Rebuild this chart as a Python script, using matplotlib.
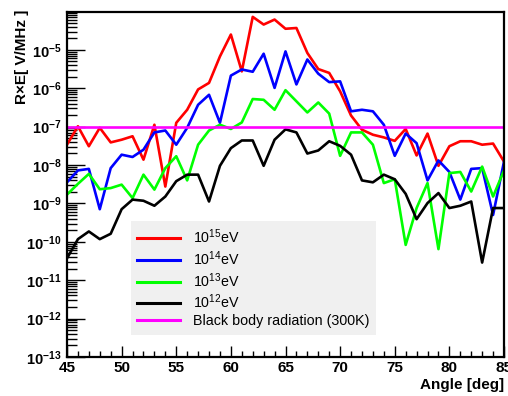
import numpy as np
import matplotlib
matplotlib.use("Agg")
import matplotlib.pyplot as plt
from matplotlib.ticker import FixedLocator, LogLocator, FuncFormatter, MultipleLocator

plt.rcParams['font.family'] = ['Liberation Sans', 'DejaVu Sans']
plt.rcParams['mathtext.fontset'] = 'custom'
plt.rcParams['mathtext.rm'] = 'Liberation Sans'
plt.rcParams['mathtext.bf'] = 'Liberation Sans:bold'

# angle in degrees (1 deg steps)
angles = list(range(45, 86))

# log10 of R*E [V/MHz]
e15 = [-7.47, -6.99, -7.51, -7.03, -7.41, -7.34, -7.25, -7.86, -6.95, -8.56,
       -6.90, -6.56, -6.03, -5.86, -5.17, -4.60, -5.56, -4.14, -4.34, -4.21,
       -4.45, -4.43, -5.08, -5.50, -5.60, -6.08, -6.71, -7.08, -7.21, -7.28,
       -7.37, -7.06, -7.75, -7.18, -8.02, -7.51, -7.38, -7.38, -7.47, -7.44, -7.91]
e14 = [-8.45, -8.14, -8.10, -9.15, -8.08, -7.73, -7.79, -7.60, -7.15, -7.10,
       -7.47, -7.03, -6.43, -6.17, -6.90, -5.67, -5.51, -5.57, -5.10, -5.99,
       -5.04, -5.90, -5.25, -5.62, -5.84, -5.82, -6.60, -6.56, -6.60, -6.95,
       -7.76, -7.18, -7.43, -8.40, -7.88, -8.18, -8.90, -8.10, -8.08, -9.30, -7.91]
e13 = [-8.77, -8.49, -8.23, -8.63, -8.60, -8.51, -8.86, -8.25, -8.64, -8.08,
       -7.77, -8.40, -7.47, -7.10, -6.95, -7.06, -6.89, -6.28, -6.30, -6.56,
       -6.05, -6.34, -6.63, -6.37, -6.66, -7.76, -7.15, -7.15, -7.47, -8.47,
       -8.37, -10.08, -9.12, -8.47, -10.19, -8.21, -8.18, -8.69, -8.04, -8.82, -8.14]
e12 = [-10.43, -9.93, -9.73, -9.93, -9.79, -9.15, -8.90, -8.93, -9.06, -8.82,
       -8.42, -8.25, -8.25, -8.95, -8.02, -7.56, -7.36, -7.36, -8.02, -7.34,
       -7.07, -7.15, -7.70, -7.62, -7.38, -7.50, -7.73, -8.40, -8.45, -8.25,
       -8.37, -8.75, -9.41, -8.99, -8.73, -9.12, -9.06, -8.95, -10.54, -9.12, -9.12]
blackbody = [1e-7] * len(angles)

series = [
    (e15, '#ff0000', r'10$^{15}$eV'),
    (e14, '#0000ff', r'10$^{14}$eV'),
    (e13, '#00ff00', r'10$^{13}$eV'),
    (e12, '#000000', r'10$^{12}$eV'),
]

fig = plt.figure(figsize=(5.08, 3.96), dpi=100)
ax = fig.add_axes([67/508, 1 - 357/396, 437/508, 345/396])

for vals, col, lab in series:
    ax.plot(angles, 10 ** np.array(vals), color=col, lw=1.9, label=lab)
ax.plot(angles, blackbody, color='#ff00ff', lw=1.9, label='Black body radiation (300K)')

ax.set_yscale('log')
ax.set_xlim(45, 85)
ax.set_ylim(1e-13, 0.97e-4)

ax.xaxis.set_major_locator(MultipleLocator(5))
ax.xaxis.set_minor_locator(MultipleLocator(1))
ax.yaxis.set_major_locator(FixedLocator([10.0 ** k for k in range(-13, -4)]))
ax.yaxis.set_minor_locator(LogLocator(base=10, subs=np.arange(2, 10), numticks=20))
ax.yaxis.set_major_formatter(FuncFormatter(
    lambda v, p: r'$\mathbf{10^{%d}}$' % round(np.log10(v))))
ax.yaxis.set_minor_formatter(FuncFormatter(lambda v, p: ''))

ax.tick_params(axis='both', which='both', direction='in', top=False, right=False, width=1.0)
ax.tick_params(axis='x', which='major', length=8, labelsize=11, pad=3)
ax.tick_params(axis='x', which='minor', length=4)
ax.tick_params(axis='y', which='major', length=13, labelsize=10.5, pad=4)
ax.tick_params(axis='y', which='minor', length=7)
for lab in ax.get_xticklabels():
    lab.set_fontweight('bold')
for sp in ax.spines.values():
    sp.set_linewidth(1.6)

ax.set_xlabel('Angle [deg]', fontsize=11, fontweight='bold', loc='right', labelpad=2)
fig.text(22/508, 1 - 10/396, 'R\u00d7E[ V/MHz ]', rotation=90, fontsize=11,
         fontweight='bold', ha='center', va='top')

leg = ax.legend(loc='upper left', bbox_to_anchor=(131/508, 1 - 221/396),
                bbox_transform=fig.transFigure, borderaxespad=0, fontsize=10.3,
                frameon=True, fancybox=False, facecolor='#f0f0f0', edgecolor='none',
                framealpha=1, handlelength=2.95, handletextpad=0.95, borderpad=0.45,
                labelspacing=0.22)
for h in leg.get_lines():
    h.set_linewidth(2.2)

fig.savefig('out.png', dpi=100)
